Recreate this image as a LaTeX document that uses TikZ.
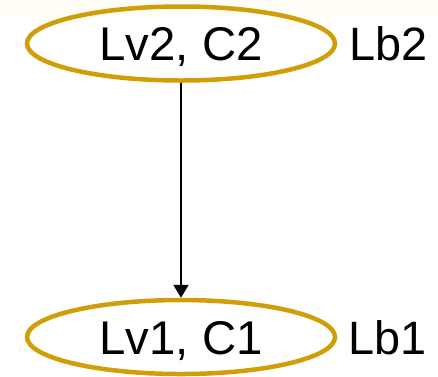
\documentclass[tikz,border=0pt]{standalone}
\usepackage{fontspec}
\setmainfont{Liberation Sans}
\usetikzlibrary{shapes.geometric,arrows.meta}
\definecolor{goldline}{RGB}{208,158,8}
\definecolor{creamband}{RGB}{255,253,246}
\tikzset{
  levelnode/.style={ellipse, draw=goldline, line width=4.5bp, minimum width=308bp, minimum height=74bp,
    inner sep=0pt, font=\fontsize{47.5}{52}\selectfont, text height=34bp, text depth=0pt},
  sidelabel/.style={anchor=west, inner sep=0pt, font=\fontsize{47}{52}\selectfont, text height=34bp, text depth=0pt},
  linkarrow/.style={line width=2bp, -{Triangle[width=15bp,length=13bp]}}
}
\begin{document}
\begin{tikzpicture}[x=1bp,y=-1bp]
\useasboundingbox (0,0) rectangle (438,376);
\fill[creamband] (0,0) rectangle (438,18);
\node[levelnode] (top) at (181,43.5) {Lv2, C2};
\node[levelnode] (bot) at (181,337) {Lv1, C1};
\node[sidelabel] (lb2) at (349.5,43.5) {Lb2};
\node[sidelabel] (lb1) at (348.5,337) {Lb1};
\draw[linkarrow] (top.south) -- (bot.north);
\end{tikzpicture}
\end{document}
